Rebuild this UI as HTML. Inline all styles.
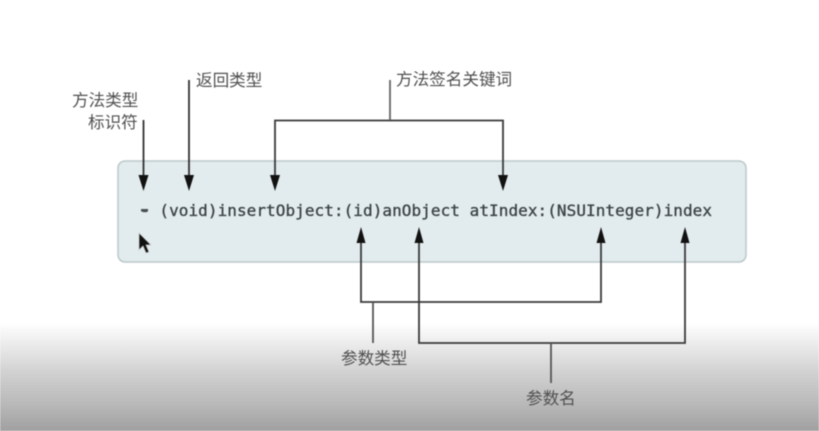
<!DOCTYPE html>
<html><head><meta charset="utf-8"><style>
html,body{margin:0;padding:0;width:819px;height:431px;overflow:hidden;background:#fff}
svg{display:block;filter:blur(.6px)}
.l{font-family:"Liberation Sans","Noto Sans CJK SC",sans-serif;font-size:16.6px;fill:#505050}
.c{font-family:"DejaVu Sans Mono","Liberation Mono",monospace;font-size:16px;fill:#3c4448;stroke:#3c4448;stroke-width:.35}
</style></head><body>
<svg width="819" height="431" viewBox="0 0 819 431" xmlns="http://www.w3.org/2000/svg">
<defs><linearGradient id="g" x1="0" y1="323" x2="0" y2="431" gradientUnits="userSpaceOnUse">
<stop offset="0" stop-color="#fff"/><stop offset=".2" stop-color="#ebebeb"/><stop offset=".45" stop-color="#d2d2d2"/><stop offset=".75" stop-color="#b9b9b9"/><stop offset="1" stop-color="#a0a0a0"/></linearGradient></defs>
<rect x="0" y="323" width="819" height="108" fill="url(#g)"/>
<rect x="118" y="161" width="628" height="101" rx="7" fill="#e2ebed" stroke="#bcc8cb" stroke-width="1.5"/>
<text class="c" x="140" y="216" textLength="572" lengthAdjust="spacing">- (void)insertObject:(id)anObject atIndex:(NSUInteger)index</text>
<rect x="141" y="209" width="7" height="2.500" fill="#4a4f52"/>
<g fill="none" stroke-width="1.800">
<path d="M143.500 120V176M189 80V176" stroke="#333"/>
<path d="M275 176V120.500H503V176" stroke="#3a3a3a"/>
<path d="M390 80V120" stroke="#666"/>
<path d="M361 240V302H601V240" stroke="#3a3a3a"/>
<path d="M373 302V343" stroke="#555"/>
<path d="M419 240V343H685V240" stroke="#3a3a3a"/>
<path d="M551 343V383" stroke="#555"/>
</g>
<g fill="#111">
<path d="M138.500 175H148.500L143.500 191Z"/>
<path d="M184 175H194L189 191Z"/>
<path d="M270 175H280L275 191Z"/>
<path d="M498 175H508L503 191Z"/>
<path d="M356.500 243H365.500L361 227Z"/>
<path d="M414.500 243H423.500L419 227Z"/>
<path d="M596.500 243H605.500L601 227Z"/>
<path d="M680.500 243H689.500L685 227Z"/>
</g>
<path d="M139 233V250L143 246L146 253L149 252L146 245L151 245Z" fill="#111" stroke="#ccc" stroke-width=".7"/>
<text class="l" x="72" y="106">方法类型</text>
<text class="l" x="88" y="128">标识符</text>
<text class="l" x="196" y="86">返回类型</text>
<text class="l" x="396" y="85">方法签名关键词</text>
<text class="l" x="341" y="364">参数类型</text>
<text class="l" x="526" y="404">参数名</text>
</svg>
</body></html>
